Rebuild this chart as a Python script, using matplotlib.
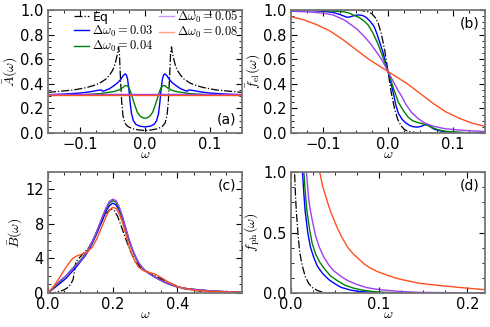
import numpy as np
import matplotlib
matplotlib.use("Agg")
import matplotlib.pyplot as plt
from matplotlib.ticker import AutoMinorLocator, MultipleLocator

plt.rcParams['mathtext.fontset'] = 'cm'
plt.rcParams['font.family'] = ['DejaVu Sans']

labels = ["Eq", r"$\Delta\omega_0=0.03$", r"$\Delta\omega_0=0.04$",
          r"$\Delta\omega_0=0.05$", r"$\Delta\omega_0=0.08$"]
colors = ["black", "#0000ff", "#008000", "#9b40f0", "#ff5020"]

# ---- panel (a): spectral function A(w); left half read, curve is symmetric
a_eq_x = [-0.15, -0.13, -0.11, -0.09, -0.08, -0.07, -0.06, -0.055, -0.05, -0.047, -0.044, -0.042, -0.041, -0.0395, -0.038, -0.036, -0.034, -0.031, -0.027, -0.02, -0.01, 0.0]
a_eq_y = [0.33, 0.34, 0.35, 0.37, 0.385, 0.405, 0.44, 0.47, 0.51, 0.55, 0.61, 0.66, 0.70, 0.64, 0.45, 0.25, 0.14, 0.08, 0.055, 0.035, 0.025, 0.02]
a_03_x = [-0.15, -0.12, -0.10, -0.085, -0.075, -0.068, -0.065, -0.062, -0.055, -0.048, -0.042, -0.037, -0.034, -0.031, -0.029, -0.027, -0.025, -0.023, -0.021, -0.018, -0.014, -0.008, 0.0]
a_03_y = [0.31, 0.318, 0.325, 0.335, 0.345, 0.35, 0.34, 0.345, 0.36, 0.385, 0.41, 0.44, 0.465, 0.48, 0.475, 0.44, 0.36, 0.25, 0.16, 0.10, 0.07, 0.055, 0.05]
a_04_x = [-0.15, -0.10, -0.07, -0.05, -0.04, -0.034, -0.031, -0.028, -0.025, -0.022, -0.019, -0.016, -0.012, -0.008, -0.004, 0.0]
a_04_y = [0.305, 0.31, 0.32, 0.335, 0.35, 0.37, 0.385, 0.385, 0.37, 0.33, 0.28, 0.23, 0.17, 0.14, 0.125, 0.12]
a_05_x = [-0.15, 0.0]
a_05_y = [0.315, 0.315]
a_08_x = [-0.15, 0.0]
a_08_y = [0.305, 0.305]

# ---- panel (b): f_el(w)
b_eq_x = [-0.15, -0.05, -0.04, -0.03, -0.025, -0.02, -0.015, -0.01, -0.005, 0.0, 0.005, 0.01, 0.015, 0.02, 0.025, 0.03, 0.04, 0.05, 0.15]
b_eq_y = [1.0, 1.0, 0.995, 0.985, 0.97, 0.94, 0.89, 0.80, 0.67, 0.5, 0.33, 0.20, 0.11, 0.06, 0.03, 0.015, 0.005, 0.0, 0.0]
b_03_x = [-0.15, -0.12, -0.1, -0.085, -0.075, -0.068, -0.063, -0.058, -0.052, -0.045, -0.039, -0.034, -0.028, -0.022, -0.018, -0.013, -0.008, -0.004, 0.0, 0.004, 0.008, 0.012, 0.016, 0.022, 0.028, 0.034, 0.04, 0.046, 0.052, 0.057, 0.062, 0.067, 0.072, 0.08, 0.088, 0.1, 0.12, 0.15]
b_03_y = [1.0, 0.995, 0.99, 0.98, 0.965, 0.95, 0.94, 0.945, 0.955, 0.96, 0.955, 0.94, 0.91, 0.87, 0.82, 0.74, 0.66, 0.58, 0.5, 0.42, 0.33, 0.23, 0.16, 0.11, 0.08, 0.06, 0.05, 0.048, 0.055, 0.068, 0.065, 0.045, 0.03, 0.018, 0.01, 0.005, 0.002, 0.0]
b_04_x = [-0.15, -0.12, -0.1, -0.08, -0.068, -0.06, -0.054, -0.045, -0.038, -0.031, -0.024, -0.016, -0.008, 0.0, 0.008, 0.016, 0.024, 0.031, 0.038, 0.046, 0.054, 0.062, 0.07, 0.077, 0.088, 0.098, 0.12, 0.15]
b_04_y = [1.0, 0.998, 0.995, 0.99, 0.985, 0.975, 0.96, 0.94, 0.915, 0.88, 0.82, 0.73, 0.62, 0.5, 0.37, 0.25, 0.18, 0.13, 0.10, 0.085, 0.075, 0.06, 0.04, 0.027, 0.015, 0.01, 0.003, 0.0]
b_05_x = [-0.15, -0.125, -0.1, -0.085, -0.068, -0.057, -0.047, -0.036, -0.026, -0.018, -0.01, -0.005, 0.0, 0.005, 0.01, 0.015, 0.021, 0.028, 0.036, 0.046, 0.057, 0.07, 0.088, 0.11, 0.13, 0.15]
b_05_y = [0.99, 0.985, 0.975, 0.96, 0.92, 0.88, 0.84, 0.78, 0.72, 0.66, 0.60, 0.55, 0.5, 0.45, 0.40, 0.35, 0.30, 0.23, 0.17, 0.12, 0.08, 0.055, 0.035, 0.024, 0.017, 0.012]
b_08_x = [-0.15, -0.13, -0.11, -0.09, -0.07, -0.05, -0.03, -0.015, 0.0, 0.015, 0.03, 0.05, 0.07, 0.09, 0.11, 0.13, 0.15]
b_08_y = [0.946, 0.92, 0.88, 0.83, 0.76, 0.68, 0.60, 0.55, 0.5, 0.45, 0.40, 0.32, 0.24, 0.17, 0.12, 0.08, 0.054]

# ---- panel (c): B(w)
c_x = [0.0, 0.02, 0.04, 0.056, 0.07, 0.085, 0.1, 0.115, 0.13, 0.145, 0.158, 0.17, 0.18, 0.19, 0.2, 0.21, 0.22, 0.23, 0.24, 0.25, 0.26, 0.27, 0.28, 0.29, 0.3, 0.315, 0.33, 0.345, 0.36, 0.38, 0.4, 0.43, 0.46, 0.5, 0.55, 0.6]
c_03_y = [0.0, 0.6, 1.2, 1.7, 2.3, 2.9, 3.6, 4.3, 5.2, 6.4, 7.5, 8.6, 9.5, 10.1, 10.4, 10.2, 9.6, 8.6, 7.4, 6.2, 5.1, 4.2, 3.5, 3.0, 2.6, 2.2, 1.85, 1.55, 1.25, 0.95, 0.7, 0.5, 0.38, 0.25, 0.15, 0.08]
c_04_y = [0.0, 0.7, 1.4, 2.0, 2.6, 3.2, 3.8, 4.5, 5.4, 6.6, 7.8, 8.9, 9.8, 10.4, 10.7, 10.5, 9.8, 8.8, 7.5, 6.2, 5.1, 4.2, 3.5, 3.0, 2.6, 2.2, 1.85, 1.55, 1.25, 0.95, 0.7, 0.5, 0.38, 0.25, 0.15, 0.08]
c_05_y = [0.0, 0.8, 1.5, 2.0, 2.6, 3.1, 3.7, 4.4, 5.4, 6.6, 7.8, 9.0, 9.9, 10.6, 10.85, 10.7, 10.0, 8.9, 7.6, 6.3, 5.2, 4.3, 3.5, 3.0, 2.6, 2.2, 1.85, 1.55, 1.25, 0.95, 0.7, 0.5, 0.38, 0.25, 0.15, 0.08]
c_08_x = [0.0, 0.02, 0.036, 0.056, 0.076, 0.09, 0.105, 0.12, 0.137, 0.15, 0.165, 0.178, 0.19, 0.2, 0.21, 0.22, 0.23, 0.24, 0.25, 0.26, 0.27, 0.28, 0.29, 0.3, 0.315, 0.33, 0.345, 0.36, 0.38, 0.4, 0.43, 0.46, 0.5, 0.55, 0.6]
c_08_y = [0.0, 0.9, 1.8, 3.0, 4.0, 4.3, 4.5, 4.7, 5.3, 6.2, 7.5, 8.7, 9.6, 9.9, 9.8, 9.2, 8.2, 6.9, 5.5, 4.4, 3.6, 3.0, 2.7, 2.5, 2.35, 2.2, 1.9, 1.55, 1.1, 0.75, 0.45, 0.3, 0.2, 0.12, 0.07]
c_eq_x = [0.0, 0.02, 0.046, 0.06, 0.07, 0.078, 0.082, 0.086, 0.095, 0.11, 0.127, 0.145, 0.158, 0.17, 0.18, 0.19, 0.197, 0.205, 0.215, 0.225, 0.24, 0.255, 0.27, 0.285, 0.3, 0.32, 0.34, 0.36, 0.38, 0.4, 0.42, 0.45, 0.48, 0.55, 0.6]
c_eq_y = [0.0, 0.05, 0.3, 0.6, 1.0, 1.6, 2.6, 3.6, 4.0, 4.6, 5.3, 6.5, 7.6, 8.6, 9.2, 9.6, 9.7, 9.55, 8.9, 7.9, 6.3, 4.8, 3.7, 3.0, 2.6, 2.2, 1.8, 1.45, 1.1, 0.8, 0.5, 0.3, 0.2, 0.1, 0.05]

# ---- panel (d): f_ph(w)
d_eq_x = [0.0035, 0.004, 0.005, 0.006, 0.008, 0.010, 0.013, 0.016, 0.02, 0.024, 0.03, 0.037, 0.045, 0.22]
d_eq_y = [1.2, 1.0, 0.82, 0.68, 0.48, 0.33, 0.22, 0.14, 0.08, 0.046, 0.02, 0.005, 0.0, 0.0]
d_03_x = [0.012, 0.013, 0.0145, 0.016, 0.019, 0.022, 0.026, 0.030, 0.036, 0.043, 0.05, 0.057, 0.067, 0.077, 0.09, 0.106, 0.22]
d_03_y = [1.2, 1.0, 0.83, 0.68, 0.5, 0.38, 0.29, 0.22, 0.16, 0.11, 0.075, 0.046, 0.025, 0.013, 0.006, 0.003, 0.0]
d_04_x = [0.0135, 0.0146, 0.016, 0.018, 0.021, 0.024, 0.028, 0.033, 0.039, 0.045, 0.053, 0.061, 0.071, 0.081, 0.093, 0.106, 0.13, 0.22]
d_04_y = [1.2, 1.0, 0.85, 0.68, 0.53, 0.41, 0.32, 0.25, 0.19, 0.14, 0.10, 0.065, 0.04, 0.024, 0.012, 0.005, 0.001, 0.0]
d_05_x = [0.016, 0.0175, 0.019, 0.020, 0.022, 0.025, 0.028, 0.032, 0.037, 0.043, 0.049, 0.057, 0.065, 0.075, 0.085, 0.095, 0.106, 0.125, 0.146, 0.22]
d_05_y = [1.2, 1.0, 0.87, 0.78, 0.68, 0.57, 0.47, 0.38, 0.30, 0.23, 0.18, 0.135, 0.10, 0.07, 0.046, 0.033, 0.024, 0.012, 0.005, 0.0]
d_08_x = [0.030, 0.0325, 0.036, 0.041, 0.045, 0.049, 0.053, 0.057, 0.061, 0.065, 0.071, 0.077, 0.083, 0.089, 0.097, 0.106, 0.116, 0.126, 0.136, 0.146, 0.158, 0.171, 0.185, 0.2, 0.22]
d_08_y = [1.15, 1.0, 0.88, 0.76, 0.67, 0.6, 0.53, 0.47, 0.42, 0.37, 0.32, 0.28, 0.24, 0.21, 0.18, 0.155, 0.13, 0.11, 0.095, 0.08, 0.07, 0.06, 0.05, 0.04, 0.027]


def mirror(x, y):
    x = np.asarray(x); y = np.asarray(y)
    return np.concatenate([x, -x[::-1][1:]]), np.concatenate([y, y[::-1][1:]])


fig = plt.figure(figsize=(4.9, 3.27), dpi=100)
W, H = 490, 327
def box(l, t, r, b):
    return [l / W, 1 - b / H, (r - l) / W, (b - t) / H]

axa = fig.add_axes(box(48, 10, 242, 133))
axb = fig.add_axes(box(291, 10, 485, 133))
axc = fig.add_axes(box(48, 172, 242, 293))
axd = fig.add_axes(box(291, 172, 485, 293))

ls = ['-.', '-', '-', '-', '-']
lw = [0.9, 1.0, 1.0, 1.0, 1.0]

sets_a = [(a_eq_x, a_eq_y), (a_03_x, a_03_y), (a_04_x, a_04_y), (a_05_x, a_05_y), (a_08_x, a_08_y)]
handles = []
for (x, y), c, s, w, lab in zip(sets_a, colors, ls, lw, labels):
    mx, my = mirror(x, y)
    h, = axa.plot(mx, my, color=c, ls=s, lw=w, label=lab)
    handles.append(h)

sets_b = [(b_eq_x, b_eq_y), (b_03_x, b_03_y), (b_04_x, b_04_y), (b_05_x, b_05_y), (b_08_x, b_08_y)]
for (x, y), c, s, w in zip(sets_b, colors, ls, lw):
    axb.plot(x, y, color=c, ls=s, lw=w)

sets_c = [(c_eq_x, c_eq_y), (c_x, c_03_y), (c_x, c_04_y), (c_x, c_05_y), (c_08_x, c_08_y)]
for (x, y), c, s, w in zip(sets_c, colors, ls, lw):
    axc.plot(x, y, color=c, ls=s, lw=w)

sets_d = [(d_eq_x, d_eq_y), (d_03_x, d_03_y), (d_04_x, d_04_y), (d_05_x, d_05_y), (d_08_x, d_08_y)]
for (x, y), c, s, w in zip(sets_d, colors, ls, lw):
    axd.plot(x, y, color=c, ls=s, lw=w)

axa.set_xlim(-0.15, 0.15); axa.set_ylim(0, 1)
axb.set_xlim(-0.15, 0.15); axb.set_ylim(0, 1)
axc.set_xlim(0, 0.6); axc.set_ylim(0, 14)
axd.set_xlim(0, 0.22); axd.set_ylim(0, 1)

axa.xaxis.set_major_locator(MultipleLocator(0.1))
axb.xaxis.set_major_locator(MultipleLocator(0.1))
axa.yaxis.set_major_locator(MultipleLocator(0.2))
axb.yaxis.set_major_locator(MultipleLocator(0.2))
axc.set_xticks([0.0, 0.2, 0.4])
axc.set_yticks([0, 4, 8, 12])
axd.set_xticks([0.0, 0.1, 0.2])
axd.set_yticks([0.0, 0.5, 1.0])

ylabels = [r"$\bar{A}(\omega)$", r"$\bar{f}_{\rm el}(\omega)$", r"$\bar{B}(\omega)$", r"$\bar{f}_{\rm ph}(\omega)$"]
for ax, yl in zip([axa, axb, axc, axd], ylabels):
    ax.xaxis.set_minor_locator(AutoMinorLocator(4))
    ax.yaxis.set_minor_locator(AutoMinorLocator(4))
    ax.tick_params(which='both', direction='in', top=True, right=True, labelsize=10.5, pad=3)
    ax.tick_params(which='major', length=4, width=0.8)
    ax.tick_params(which='minor', length=2, width=0.6)
    for sp in ax.spines.values():
        sp.set_color('#777777')
        sp.set_linewidth(1.3)
    ax.set_xlabel(r"$\omega$", fontsize=10, labelpad=-4)
    ax.set_ylabel(yl, fontsize=10, labelpad=1)

axa.text(0.97, 0.05, "(a)", transform=axa.transAxes, ha='right', va='bottom', fontsize=10)
axb.text(0.97, 0.95, "(b)", transform=axb.transAxes, ha='right', va='top', fontsize=10)
axc.text(0.97, 0.95, "(c)", transform=axc.transAxes, ha='right', va='top', fontsize=10)
axd.text(0.97, 0.95, "(d)", transform=axd.transAxes, ha='right', va='top', fontsize=10)

leg = axa.legend(handles=handles, ncol=2, frameon=False, fontsize=9,
                 loc='upper left', bbox_to_anchor=(0.11, 1.05),
                 handlelength=1.2, handletextpad=0.25, columnspacing=0.4,
                 labelspacing=0.0, borderaxespad=0.0)
for hl in leg.legend_handles[3:]:
    hl.set_alpha(0.55)

fig.savefig("out.png", dpi=100)
